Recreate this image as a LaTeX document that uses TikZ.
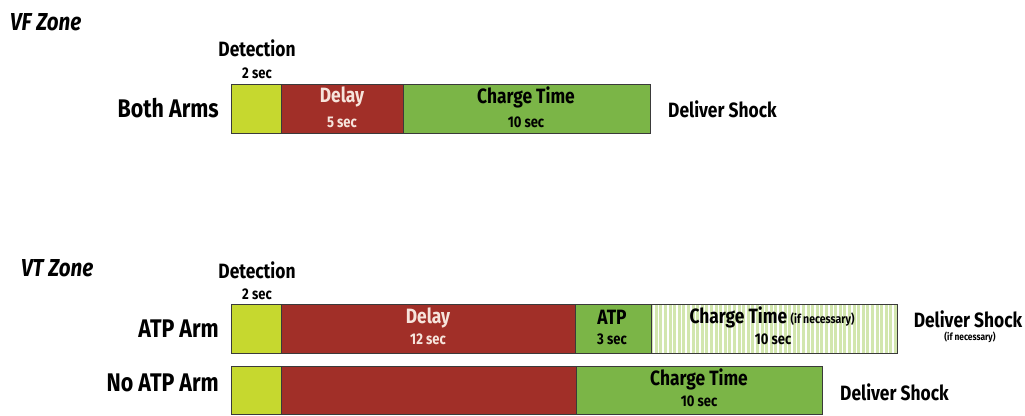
\documentclass[tikz,border=0pt]{standalone}
\usepackage{fontspec}
\setmainfont{Fira Sans}[FakeStretch=0.84]
\definecolor{detcol}{HTML}{C6D82F}
\definecolor{delcol}{HTML}{A12F28}
\definecolor{chgcol}{HTML}{7BB547}
\definecolor{lightchg}{HTML}{D2E6AE}
\definecolor{bordercol}{HTML}{3A3A3A}
\definecolor{paletxt}{HTML}{F6E4DC}
\newcommand\fZone{\fontsize{24.5}{26}\selectfont\bfseries\itshape}
\newcommand\fArm{\fontsize{25.5}{27}\selectfont\bfseries}
\newcommand\fHead{\fontsize{20.7}{22}\selectfont\bfseries}
\newcommand\fSmall{\fontsize{15.5}{17}\selectfont\bfseries}
\newcommand\fIn{\fontsize{20.7}{22}\selectfont\bfseries}
\newcommand\fSec{\fontsize{15.5}{17}\selectfont\bfseries}
\newcommand\fTiny{\fontsize{10}{11}\selectfont\bfseries}
\newcommand\fMid{\fontsize{12.5}{14}\selectfont\bfseries}
\begin{document}
\begin{tikzpicture}[x=1pt,y=-1pt,
  seg/.style={draw=bordercol, line width=0.9pt, inner sep=0pt, anchor=north west, minimum height=49pt},
  txt/.style={inner sep=0pt, text=black},
  pale/.style={inner sep=0pt, text=paletxt},
  striped/.style={fill=lightchg, path picture={
     \foreach \i in {0,...,54}
       \draw[white, line width=1.7pt] ([xshift=\i*4.6pt+2.5pt]path picture bounding box.south west) -- ++(0,60pt);}}
]
\useasboundingbox[fill=white] (0,0) rectangle (1025,415);

% ---------------- VF zone ----------------
\node[txt, anchor=west] (vfzone) at (10,22) {\fZone VF Zone};
\node[txt] (vfdet) at (257,48) {\fHead Detection};
\node[txt] (vfdetsec) at (257,73) {\fSmall 2 sec};
\node[txt, anchor=east] (both) at (219,108) {\fArm Both Arms};

\node[seg, fill=detcol, minimum width=50pt] (vfd) at (231,84) {};
\node[seg, fill=delcol, minimum width=122pt] (vfl) at (281,84) {};
\node[seg, fill=chgcol, minimum width=247pt] (vfc) at (403,84) {};

\node[pale] (vflt) at (342,97) {\fIn Delay};
\node[pale] (vfls) at (342,122) {\fSec 5 sec};
\node[txt] (vfct) at (526,97) {\fIn Charge Time};
\node[txt] (vfcs) at (526,122) {\fSec 10 sec};
\node[txt, anchor=west] (vfshock) at (668,109) {\fHead Deliver Shock};

% ---------------- VT zone ----------------
\node[txt, anchor=west] (vtzone) at (21,268) {\fZone VT Zone};
\node[txt] (vtdet) at (257,270) {\fHead Detection};
\node[txt] (vtdetsec) at (257,294) {\fSmall 2 sec};
\node[txt, anchor=east] (atparm) at (219,329) {\fArm ATP Arm};
\node[txt, anchor=east] (noatparm) at (219,383) {\fArm No ATP Arm};

% ATP arm row
\node[seg, fill=detcol, minimum width=50pt] (ad) at (231,304) {};
\node[seg, fill=delcol, minimum width=294pt] (al) at (281,304) {};
\node[seg, fill=chgcol, minimum width=76pt] (aa) at (575,304) {};
\node[seg, striped, minimum width=246pt] (ac) at (651,304) {};

\node[pale] (alt) at (428,318) {\fIn Delay};
\node[pale] (als) at (428,339) {\fSec 12 sec};
\node[txt] (aat) at (612,317) {\fIn ATP};
\node[txt] (aas) at (612,339) {\fSec 3 sec};
\node[txt] (act) at (772,317) {\fIn Charge Time\,{\fMid (if necessary)}};
\node[txt] (acs) at (773,339) {\fSec 10 sec};
\node[txt] (ashock) at (968,319) {\fHead Deliver Shock};
\node[txt] (anec) at (970,337) {\fTiny (if necessary)};

% No ATP arm row
\node[seg, fill=detcol, minimum width=50pt, minimum height=48pt] (nd) at (231,366) {};
\node[seg, fill=delcol, minimum width=295pt, minimum height=48pt] (nl) at (281,366) {};
\node[seg, fill=chgcol, minimum width=246pt, minimum height=48pt] (nc) at (576,366) {};

\node[txt] (nct) at (699,379) {\fIn Charge Time};
\node[txt] (ncs) at (699,401) {\fSec 10 sec};
\node[txt, anchor=west] (nshock) at (840,392) {\fHead Deliver Shock};
\end{tikzpicture}
\end{document}
